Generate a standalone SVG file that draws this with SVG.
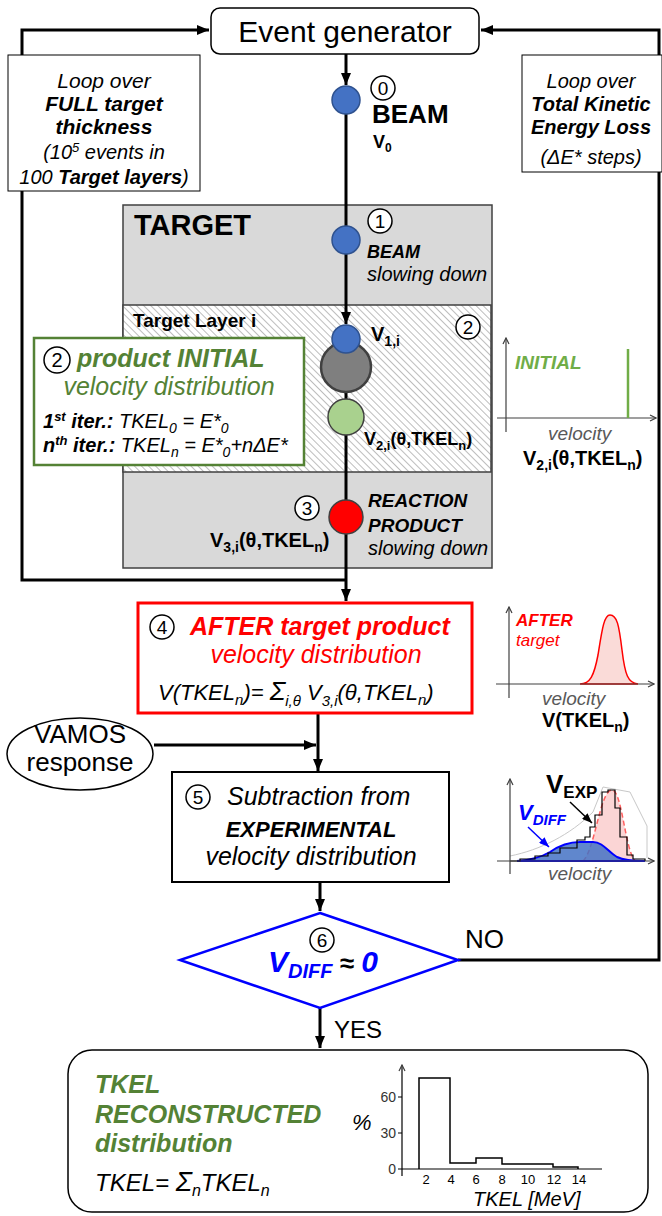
<svg xmlns="http://www.w3.org/2000/svg" width="662" height="1216" viewBox="0 0 662 1216">
<defs>
<style>
text{font-family:"Liberation Sans",Arial,sans-serif;fill:#000}
.i{font-style:italic}
.b{font-weight:bold}
.bi{font-weight:bold;font-style:italic}
.g{fill:#548235}
.r{fill:#ff0000}
.bl{fill:#0000ff}
.gr{fill:#595959}
.c{text-anchor:middle}
.ln{stroke:#000;stroke-width:3;fill:none}
.ax{stroke:#404040;stroke-width:1.2;fill:none}
.num{fill:#fff;stroke:#000;stroke-width:1.5}
</style>
<marker id="ah" viewBox="0 0 12 10" refX="12" refY="5" markerWidth="12" markerHeight="10" orient="auto" markerUnits="userSpaceOnUse"><path d="M0,0 L12,5 L0,10 z" fill="#000"/></marker>
<marker id="ahs" viewBox="0 0 10 8" refX="10" refY="4" markerWidth="10" markerHeight="8" orient="auto" markerUnits="userSpaceOnUse"><path d="M0,0 L10,4 L0,8 z" fill="#000"/></marker>
<marker id="ahb" viewBox="0 0 10 8" refX="10" refY="4" markerWidth="10" markerHeight="8" orient="auto" markerUnits="userSpaceOnUse"><path d="M0,0 L10,4 L0,8 z" fill="#0000ff"/></marker>
<marker id="oa" viewBox="0 0 8 8" refX="7" refY="4" markerWidth="8" markerHeight="8" orient="auto" markerUnits="userSpaceOnUse"><path d="M1,1 L7,4 L1,7" fill="none" stroke="#404040" stroke-width="1.2"/></marker>
<pattern id="hatch" width="5" height="5" patternUnits="userSpaceOnUse" patternTransform="rotate(-45)"><rect width="5" height="5" fill="#fff"/><line x1="0" y1="0" x2="0" y2="5" stroke="#9a9a9a" stroke-width="1.3"/></pattern>
</defs>

<rect width="662" height="1216" fill="#fff"/>

<!-- target regions -->
<g id="target">
<rect x="123" y="205" width="369" height="363" fill="#d9d9d9" stroke="#404040" stroke-width="1.5"/>
<text x="134" y="235" class="b" font-size="29">TARGET</text>
</g>
<g id="target-layer">
<rect x="123" y="305" width="368" height="167" fill="url(#hatch)" stroke="#404040" stroke-width="1.5"/>
<text x="133" y="327" class="b" font-size="19">Target Layer i</text>
<circle cx="468" cy="327" r="12" class="num"/><text x="468" y="334" class="c" font-size="19">2</text>
</g>

<!-- connectors -->
<g id="connectors">
<path class="ln" d="M346,580 H22 V30 H209" marker-end="url(#ah)"/>
<path class="ln" d="M458,960 H659 V30 H481" marker-end="url(#ah)"/>
<path class="ln" d="M346,53 V85" marker-end="url(#ah)"/>
<path class="ln" d="M346,112 V324" marker-end="url(#ah)"/>
<path class="ln" d="M346,350 V601" marker-end="url(#ah)"/>
<path class="ln" d="M318,713 V771" marker-end="url(#ah)"/>
<path class="ln" d="M154,745 H316" marker-end="url(#ah)"/>
<path class="ln" d="M320,882 V911" marker-end="url(#ah)"/>
<path class="ln" d="M320,1008 V1048" marker-end="url(#ah)"/>
<text x="465" y="948" font-size="26">NO</text>
<text x="334" y="1038" font-size="24">YES</text>
</g>

<g id="event-generator">
<rect x="211" y="8" width="268" height="46" rx="9" fill="#fff" stroke="#000" stroke-width="1.5"/>
<text x="345" y="42" class="c" font-size="30">Event generator</text>
</g>

<g id="loop-target">
<rect x="8" y="55" width="192" height="136" fill="#fff" stroke="#000" stroke-width="1"/>
<text x="104" y="88" class="i c" font-size="21">Loop over</text>
<text x="104" y="111" class="bi c" font-size="21">FULL target</text>
<text x="104" y="134" class="bi c" font-size="21">thickness</text>
<text x="104" y="159" class="i c" font-size="20">(10<tspan dy="-7" font-size="13">5</tspan><tspan dy="7"> events in</tspan></text>
<text x="104" y="184" class="i c" font-size="20">100 <tspan class="bi">Target layers</tspan>)</text>
</g>

<g id="loop-tkel">
<rect x="522" y="55" width="140" height="117" fill="#fff" stroke="#000" stroke-width="1"/>
<text x="591" y="88" class="i c" font-size="20">Loop over</text>
<text x="591" y="111" class="bi c" font-size="20">Total Kinetic</text>
<text x="591" y="134" class="bi c" font-size="20">Energy Loss</text>
<text x="591" y="164" class="i c" font-size="20">(ΔE* steps)</text>
</g>

<g id="beam0">
<circle cx="346" cy="100" r="14" fill="#4472c4" stroke="#2f528f" stroke-width="1.5"/>
<circle cx="383" cy="88" r="12" class="num"/><text x="383" y="95" class="c" font-size="19">0</text>
<text x="372" y="123" class="b" font-size="26">BEAM</text>
<text x="373" y="148" class="b" font-size="18">V<tspan dy="4" font-size="12">0</tspan></text>
</g>

<g id="beam1">
<circle cx="346" cy="240" r="14" fill="#4472c4" stroke="#2f528f" stroke-width="1.5"/>
<circle cx="380" cy="221" r="12" class="num"/><text x="380" y="228" class="c" font-size="19">1</text>
<text x="367" y="258" class="bi" font-size="18">BEAM</text>
<text x="367" y="281" class="i" font-size="20">slowing down</text>
</g>

<g id="layer-particles">
<circle cx="346" cy="367" r="25" fill="#7f7f7f" stroke="#404040" stroke-width="2.5"/>
<circle cx="346" cy="339" r="14" fill="#4472c4" stroke="#2f528f" stroke-width="1.5"/>
<circle cx="346" cy="417" r="18" fill="#a9d18e" stroke="#404040" stroke-width="1.5"/>
<text x="371" y="341" class="b" font-size="20">V<tspan dy="5" font-size="14">1,i</tspan></text>
<text x="364" y="445" class="b" font-size="18">V<tspan dy="5" font-size="13">2,i</tspan><tspan dy="-5">(θ,TKEL</tspan><tspan dy="5" font-size="13">n</tspan><tspan dy="-5">)</tspan></text>
</g>

<g id="initial-box">
<rect x="34" y="338" width="270" height="127" fill="#fff" stroke="#548235" stroke-width="2.5"/>
<circle cx="57" cy="360" r="13" class="num"/><text x="57" y="367" class="c" font-size="20">2</text>
<text x="77" y="367" class="bi g" font-size="25">product INITIAL</text>
<text x="169" y="395" class="i g c" font-size="25">velocity distribution</text>
<text x="43" y="428" class="i" font-size="20"><tspan class="bi">1<tspan dy="-7" font-size="13">st</tspan><tspan dy="7"> iter.:</tspan></tspan> TKEL<tspan dy="5" font-size="14">0</tspan><tspan dy="-5"> = E*</tspan><tspan dy="5" font-size="14">0</tspan></text>
<text x="43" y="452" class="i" font-size="20"><tspan class="bi">n<tspan dy="-7" font-size="13">th</tspan><tspan dy="7"> iter.:</tspan></tspan> TKEL<tspan dy="5" font-size="14">n</tspan><tspan dy="-5"> = E*</tspan><tspan dy="5" font-size="14">0</tspan><tspan dy="-5">+nΔE*</tspan></text>
</g>

<g id="initial-plot">
<path class="ax" d="M506,432 V338" marker-end="url(#oa)"/>
<path class="ax" d="M497,418 H656" marker-end="url(#oa)"/>
<line x1="628" y1="349" x2="628" y2="418" stroke="#70ad47" stroke-width="2.5"/>
<text x="515" y="369" class="bi" font-size="19" style="fill:#70ad47">INITIAL</text>
<text x="548" y="440" class="i gr" font-size="19">velocity</text>
<text x="523" y="465" class="b" font-size="20">V<tspan dy="5" font-size="14">2,i</tspan><tspan dy="-5">(θ,TKEL</tspan><tspan dy="5" font-size="14">n</tspan><tspan dy="-5">)</tspan></text>
</g>

<g id="reaction-product">
<circle cx="346" cy="517" r="17" fill="#ff0000" stroke="#404040" stroke-width="1.5"/>
<circle cx="307" cy="508" r="12" class="num"/><text x="307" y="515" class="c" font-size="19">3</text>
<text x="210" y="547" class="b" font-size="20">V<tspan dy="5" font-size="14">3,i</tspan><tspan dy="-5">(θ,TKEL</tspan><tspan dy="5" font-size="14">n</tspan><tspan dy="-5">)</tspan></text>
<text x="368" y="507" class="bi" font-size="19">REACTION</text>
<text x="368" y="532" class="bi" font-size="19">PRODUCT</text>
<text x="368" y="555" class="i" font-size="20">slowing down</text>
</g>

<g id="after-box">
<rect x="138" y="603" width="334" height="110" fill="#fff" stroke="#ff0000" stroke-width="3"/>
<circle cx="162" cy="627" r="12" class="num"/><text x="162" y="634" class="c" font-size="19">4</text>
<text x="190" y="635" class="bi r" font-size="25">AFTER target product</text>
<text x="316" y="663" class="i r c" font-size="25">velocity distribution</text>
<text x="158" y="700" class="i" font-size="22">V(TKEL<tspan dy="5" font-size="15">n</tspan><tspan dy="-5">)= </tspan><tspan font-size="26">Σ</tspan><tspan dy="6" font-size="15">i,θ</tspan><tspan dy="-6"> V</tspan><tspan dy="6" font-size="15">3,i</tspan><tspan dy="-6">(θ,TKEL</tspan><tspan dy="5" font-size="15">n</tspan><tspan dy="-5">)</tspan></text>
</g>

<g id="after-plot">
<path class="ax" d="M509,698 V607" marker-end="url(#oa)"/>
<path d="M580,684 C590,684 594,676 598,655 C602,630 604,615 610,615 C617,615 619,625 622,650 C625,675 628,683 638,684 Z" fill="#fadbd8" stroke="#ff0000" stroke-width="1.5"/>
<path class="ax" d="M496,684 H654" marker-end="url(#oa)"/>
<text x="516" y="626" class="bi r" font-size="17">AFTER</text>
<text x="516" y="646" class="i r" font-size="17">target</text>
<text x="542" y="705" class="i gr" font-size="19">velocity</text>
<text x="542" y="727" class="b" font-size="20">V(TKEL<tspan dy="5" font-size="14">n</tspan><tspan dy="-5">)</tspan></text>
</g>

<g id="vamos">
<ellipse cx="80" cy="754" rx="73" ry="36" fill="#fff" stroke="#000" stroke-width="1.5"/>
<text x="80" y="743" class="c" font-size="26">VAMOS</text>
<text x="80" y="771" class="c" font-size="26">response</text>
</g>

<g id="subtraction-box">
<rect x="172" y="772" width="277" height="110" fill="#fff" stroke="#000" stroke-width="2"/>
<circle cx="198" cy="797" r="12" class="num"/><text x="198" y="804" class="c" font-size="19">5</text>
<text x="227" y="805" class="i" font-size="25">Subtraction from</text>
<text x="311" y="837" class="bi c" font-size="22">EXPERIMENTAL</text>
<text x="311" y="865" class="i c" font-size="25">velocity distribution</text>
</g>

<g id="vexp-plot">
<path d="M510,856 C540,850 570,835 593,812 L603,787 L630,792 L647,826 L647,858" fill="none" stroke="#c8c8c8" stroke-width="1"/>
<path d="M583,861 C595,850 600,790 612,790 C622,790 625,850 635,861 Z" fill="#fbd5d5" stroke="#ff6060" stroke-width="1.5" stroke-dasharray="5,3"/>
<path d="M517,861 C530,860 540,858 550,852 C560,845 570,842 580,842 L593,842 C603,842 608,852 617,857 C625,861 635,861 645,861 Z" fill="#4472c4" fill-opacity="0.85" stroke="#0000ff" stroke-width="2"/>
<path d="M510,861 H520 V859 H535 V856 H548 V853 H560 V848 H577 V840 H585 V837 H590 V827 H595 V815 H602 V792 H608 V790 H615 V808 H620 V837 H627 V855 H633 V859 H645 V861" fill="none" stroke="#000" stroke-width="1.2"/>
<path class="ax" d="M510,874 V779" marker-end="url(#oa)"/>
<path class="ax" d="M497,861 H654" marker-end="url(#oa)"/>
<text x="546" y="793" class="b" font-size="26">V<tspan dy="5" font-size="17">EXP</tspan></text>
<text x="518" y="820" class="bi bl" font-size="22">V<tspan dy="5" font-size="15">DIFF</tspan></text>
<line x1="570" y1="802" x2="592" y2="823" stroke="#000" stroke-width="1.5" marker-end="url(#ahs)"/>
<line x1="528" y1="827" x2="549" y2="847" stroke="#0000ff" stroke-width="1.5" marker-end="url(#ahb)"/>
<text x="548" y="880" class="i gr" font-size="19">velocity</text>
</g>

<g id="decision">
<polygon points="320,913 458,960 320,1008 180,960" fill="#fff" stroke="#0000ff" stroke-width="2.5"/>
<circle cx="322" cy="940" r="12" class="num"/><text x="322" y="947" class="c" font-size="19">6</text>
<text x="268" y="972" class="bi bl" font-size="30">V<tspan dy="6" font-size="20">DIFF</tspan><tspan dy="-6" class="b" style="fill:#000;font-style:normal" font-size="26"> ≈ </tspan><tspan>0</tspan></text>
</g>

<g id="result-box">
<rect x="68" y="1050" width="580" height="162" rx="24" fill="#fff" stroke="#000" stroke-width="1.5"/>
<text x="95" y="1093" class="bi g" font-size="25">TKEL</text>
<text x="95" y="1123" class="bi g" font-size="25">RECONSTRUCTED</text>
<text x="95" y="1152" class="bi g" font-size="25">distribution</text>
<text x="95" y="1191" class="i" font-size="24">TKEL= <tspan font-size="27">Σ</tspan><tspan dy="5" font-size="16">n</tspan><tspan dy="-5">TKEL</tspan><tspan dy="5" font-size="16">n</tspan></text>
</g>

<g id="tkel-histogram">
<path d="M419,1169 V1078 H450 V1163 H476 V1158 H502 V1164 H553 V1167 H578 V1169" fill="none" stroke="#000" stroke-width="1.5"/>
<path d="M402,1176 V1065" fill="none" stroke="#000" stroke-width="1.2" marker-end="url(#oa)"/>
<path d="M398,1169 H602" fill="none" stroke="#000" stroke-width="1.2"/>
<path d="M398,1097 H402 M398,1133 H402" stroke="#000" stroke-width="1.2"/>
<text x="396" y="1102" font-size="14" style="text-anchor:end;fill:#333">60</text>
<text x="396" y="1138" font-size="14" style="text-anchor:end;fill:#333">30</text>
<text x="396" y="1174" font-size="14" style="text-anchor:end;fill:#333">0</text>
<text x="352" y="1130" class="i" font-size="22">%</text>
<g font-size="13">
<text x="426" y="1184" class="c">2</text>
<text x="451" y="1184" class="c">4</text>
<text x="476" y="1184" class="c">6</text>
<text x="502" y="1184" class="c">8</text>
<text x="528" y="1184" class="c">10</text>
<text x="554" y="1184" class="c">12</text>
<text x="579" y="1184" class="c">14</text>
</g>
<text x="473" y="1206" class="i" font-size="20">TKEL [MeV]</text>
</g>
</svg>
